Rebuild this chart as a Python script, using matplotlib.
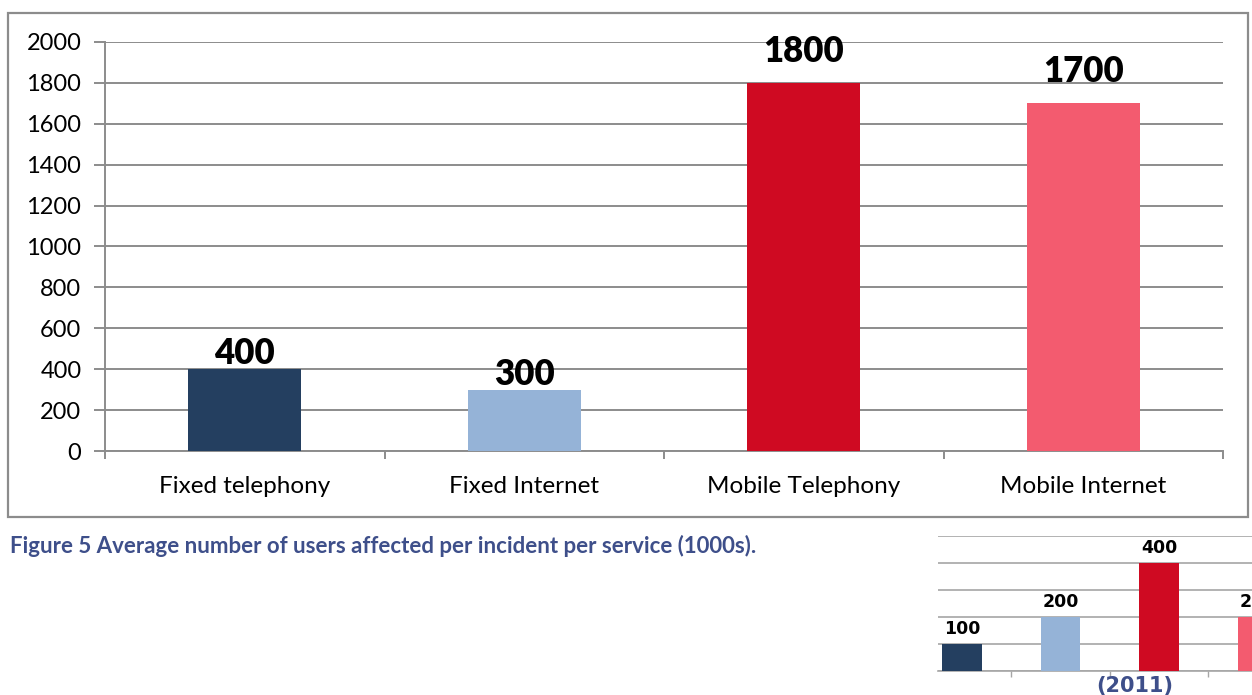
import matplotlib
matplotlib.use("Agg")
import matplotlib.pyplot as plt
from matplotlib.patches import Rectangle

# Average users affected per incident, per service (1000s)
services = ["Fixed telephony", "Fixed Internet", "Mobile Telephony", "Mobile Internet"]
users_affected = [400, 300, 1800, 1700]
bar_colors = ["#243F60", "#95B3D7", "#CF0A22", "#F35B6F"]
y_ticks = [0, 200, 400, 600, 800, 1000, 1200, 1400, 1600, 1800, 2000]

# Companion 2011 chart (partially visible at the page edge)
values_2011 = [100, 200, 400, 200]
ticks_2011 = [0, 100, 200, 300, 400, 500]

caption = "Figure 5 Average number of users affected per incident per service (1000s)."
year_label = "(2011)"

W, H = 1252, 695
DPI = 100
fig = plt.figure(figsize=(W / DPI, H / DPI), dpi=DPI)

GRID = "#8C8C8C"
FONT = "Lato"

def fx(px):
    return px / W

def fy(py):
    return 1 - py / H

# Chart frame
fig.patches.append(Rectangle((fx(8), fy(517)), fx(1248) - fx(8), fy(13) - fy(517),
                             transform=fig.transFigure, fill=False,
                             edgecolor="#8C8C8C", linewidth=1.6, zorder=0))

# Main chart
ax = fig.add_axes([fx(105), fy(451), fx(1223) - fx(105), fy(42) - fy(451)])
x = list(range(len(services)))
ax.bar(x, users_affected, width=0.405, color=bar_colors, zorder=3)
ax.set_xlim(-0.5, len(services) - 0.5)
ax.set_ylim(0, 2000)
ax.set_yticks(y_ticks)
ax.set_yticklabels([str(v) for v in y_ticks], fontsize=17, fontfamily=FONT)
ax.yaxis.grid(True, color=GRID, linewidth=1.4, zorder=0)
ax.tick_params(axis="y", length=8, width=1.4, color=GRID, pad=9)
ax.set_xticks(x)
ax.set_xticklabels(services, fontsize=17.5, fontfamily=FONT)
ax.set_xticks([i - 0.5 for i in range(len(services) + 1)], minor=True)
ax.tick_params(axis="x", which="major", length=0, pad=18)
ax.tick_params(axis="x", which="minor", length=6, width=1.4, color=GRID)
for side in ("top", "right"):
    ax.spines[side].set_visible(False)
for side in ("left", "bottom"):
    ax.spines[side].set_color(GRID)
    ax.spines[side].set_linewidth(1.4)

for xi, v in zip(x, users_affected):
    off = 5 if v < 1000 else 21
    ax.annotate(str(v), (xi, v), xytext=(0, off), textcoords="offset pixels",
                ha="center", va="baseline", fontsize=25, fontweight="heavy",
                fontfamily=FONT, color="black", zorder=5)

# Caption
fig.text(fx(10), fy(553), caption, ha="left", va="baseline", fontsize=16,
         fontweight="bold", fontfamily=FONT, color="#3E4F8A")

# 2011 chart
ax2 = fig.add_axes([fx(938), fy(671), fx(1252) - fx(938), fy(536) - fy(671)])
x2 = list(range(len(values_2011)))
ax2.bar(x2, values_2011, width=0.405, color=bar_colors, zorder=3)
ax2.set_xlim(-0.2437, 2.944)
ax2.set_ylim(0, 500)
ax2.set_yticks(ticks_2011)
ax2.yaxis.grid(True, color="#A6A6A6", linewidth=1.2, zorder=0)
ax2.tick_params(axis="y", length=0, labelleft=False)
ax2.set_xticks([i + 0.5 for i in range(len(values_2011) - 1)])
ax2.set_xticklabels([])
ax2.tick_params(axis="x", length=4, width=1.0, color="#A6A6A6")
for side in ("top", "right", "left"):
    ax2.spines[side].set_visible(False)
ax2.spines["bottom"].set_color("#A6A6A6")
ax2.spines["bottom"].set_linewidth(1.2)
for xi, v in zip(x2, values_2011):
    ax2.annotate(str(v), (xi, v), xytext=(0, 10), textcoords="offset pixels",
                 ha="center", va="baseline", fontsize=12.5, fontweight="bold",
                 fontfamily="DejaVu Sans", color="black", annotation_clip=False)

fig.text(fx(1135), fy(692), year_label, ha="center", va="baseline", fontsize=15,
         fontweight="bold", fontfamily="DejaVu Sans", color="#3E4F8A")

fig.savefig("out.png", dpi=DPI, facecolor="white")
